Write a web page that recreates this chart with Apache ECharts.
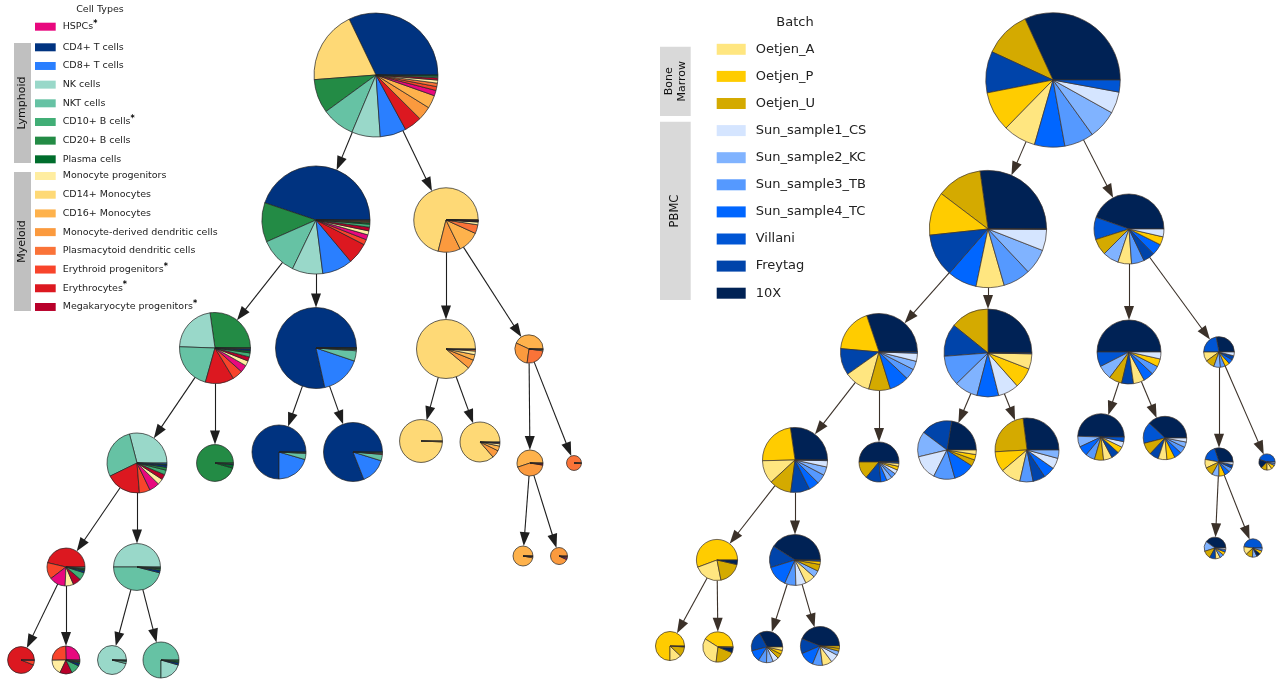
<!DOCTYPE html>
<html><head><meta charset="utf-8">
<script src="https://cdn.jsdelivr.net/npm/echarts@6/dist/echarts.min.js"></script>
<style>html,body{margin:0;padding:0;background:#fff}#c{width:1285px;height:680px}</style>
</head><body><div id="c"></div><script>
// ---------------- DATA ----------------
const cellTypes = ['HSPCs','CD4+ T cells','CD8+ T cells','NK cells','NKT cells','CD10+ B cells','CD20+ B cells','Plasma cells',
  'Monocyte progenitors','CD14+ Monocytes','CD16+ Monocytes','Monocyte-derived dendritic cells','Plasmacytoid dendritic cells',
  'Erythroid progenitors','Erythrocytes','Megakaryocyte progenitors'];
const starredTypes = ['HSPCs','CD10+ B cells','Erythroid progenitors','Erythrocytes','Megakaryocyte progenitors'];
const lymphoidTypes = cellTypes.slice(1, 8);
const myeloidTypes = cellTypes.slice(8);
const batches = ['Oetjen_A','Oetjen_P','Oetjen_U','Sun_sample1_CS','Sun_sample2_KC','Sun_sample3_TB','Sun_sample4_TC','Villani','Freytag','10X'];

// tree: parent of each cluster node (-1 = root)
const parentOf = [-1,0,0,1,1,2,2,3,3,4,4,5,5,6,6,7,7,13,13,15,15,16,16];
// relative cell count of each cluster node (pie area)
const nodeCells = [38400,29200,10400,12600,16400,8700,2000,9000,3400,7300,8700,4600,4000,1700,560,3600,5500,1000,720,1800,1960,2100,3240];

// cell-type share (%) per node, in cellTypes order
const cellTypeShares = [
 [1.4,32,6.8,7.4,8.6,0.4,8.8,0.3,0.8,19,3.4,3.6,0.9,1.0,4.6,0.6],
 [1.5,45,9.1,9.2,11.3,0.9,11.8,0.5,1.2,0.1,0.2,0.3,0.15,1.6,6.4,1.1],
 [0.1,0.3,0.1,0.1,0.1,0,0.1,0,1.4,71.2,11.0,11.2,4.4,0,0.1,0.1],
 [3.3,0.8,0.3,22,21,1.8,27,1.0,2.3,0.1,0,0,0,4.7,12.9,1.9],
 [0.05,78.5,16.3,0.4,4.1,0.05,0.3,0.1,0,0,0,0,0,0,0.2,0],
 [0,0.3,0,0,0,0,0,0,2,88.6,3,5,0.8,0,0,0],
 [0,0,0,0,0,0,0,0,1.2,0.3,43,29.7,25,0,0,0.6],
 [5.5,1.2,0.5,28.8,27.9,2.5,1.5,0.6,3.1,0,0,0,0,5.8,18.9,2.8],
 [0,0.8,0,0,0,0.7,95.5,3,0,0,0,0,0,0,0,0],
 [0,75,20.5,0.5,3.6,0,0.4,0,0,0,0,0,0,0,0,0],
 [0,81,14.2,0.4,3.5,0,0.4,0,0,0,0,0,0,0,0.5,0],
 [0,0,0,0,0,0,0,0,0,99.3,0.3,0.4,0,0,0,0],
 [0,0.6,0,0,0,0,0,0,1.9,86.4,3.9,6.4,0.8,0,0,0],
 [0.8,0,0,0,0,0,0,0,0,0,55,42,0.6,0,0,1.2],
 [0,0,0,0,0,0,0,0,0,0,0.5,0.5,99,0,0,0],
 [13.9,1.8,0,0,0.9,6.5,1.0,1.2,7.2,0,0,0,0,14,46.3,7.1],
 [0,1.8,0,50,46,0.5,1,0.7,0,0,0,0,0,0,0,0],
 [0,0,0,0,0,0,0,0,0,0.5,97,2,0,0,0,0.5],
 [3,0,0,0,0,0,0,0,0,0,2,93,0,0,0,2],
 [0.5,0,0,0,0,0,0,0,0,0,0,0,0,5.5,94,0],
 [25.5,3,0,0,0.8,11,0,2,17.8,0,0,0,0,25,1.2,14.2],
 [0,1,0,96,2.5,0,0.5,0,0,0,0,0,0,0,0,0],
 [0,2,0,20.5,75,0,1,1.5,0,0,0,0,0,0,0,0]
];
// batch share (%) per node, in batches order
const batchShares = [
 [7.9,9.6,11.3,5.2,7.0,7.1,7.3,2.9,10.0,31.9],
 [7.8,12.1,12.6,5.9,7.1,7.6,8.2,0.1,12.0,27.4],
 [6.3,3.8,7.6,3.6,7.4,5.9,5.2,10.3,5.3,44.6],
 [10.9,18.4,9.1,3.4,3.6,4.5,8.2,0.5,11.2,30.2],
 [5.6,7.5,14.1,7.6,8.6,11.1,8.0,0.3,12,25],
 [5.6,4.0,6.6,3.5,7.2,4.4,5.2,7.5,6.0,50],
 [10,5,9.5,4,7,5.1,4.9,22,4.5,28],
 [11,22,10.5,3,4,4.5,5,0.3,9,26],
 [2.5,3,14,3.5,4.5,4,5,1,12.5,50],
 [2.5,3.0,3.5,13.8,14,11.8,11.6,0,17.3,22.4],
 [10.2,10.3,23.9,5.5,4.2,6.7,5.9,0,6.3,27],
 [6,4.5,6.3,4,7.5,6.5,7,3.2,5.5,49.5],
 [6.5,6,9,3,4,5,5.5,16,7,38],
 [10,7,9.9,3,8,5,6,17,4,30],
 [10,8,12,0,3,4,0,45,0,18],
 [22.4,55.7,18.3,0,0,0,0,0,0,3.6],
 [6.4,2,4.3,6.5,4.4,7.2,13.6,0.8,13.8,41],
 [7,5,12,2.5,15,6,3.5,0,9,40],
 [14,6,12,0,8,5,0,48,0,7],
 [13,75,11,0,0,0,0,0,0,1],
 [32,41,21,0,0.5,0,0,0,0,5.5],
 [3.5,4,5,6,7,8.5,12,0,21,33],
 [8.2,1.8,2.5,7,3.5,8.3,12.4,0,12.5,44]
];

// ---------------- LAYOUT / STYLE ----------------
const leftPos = [[376,75],[316,220],[446,220],[215,348],[316,348],[446,349],[529,349],[137,463],[215,463],[279,452],[353,452],
  [421,441],[480,442],[530,463],[574,463],[66,567],[137,567],[523,556],[559,556],[21,660],[66,660],[112,660],[161,660]];
const rightPos = [[1053,80],[988,229],[1129,229],[879,352],[988,353],[1129,352],[1219,352],[795,460],[879,462],[947,450],[1027,450],
  [1101,437],[1165,438],[1219,462],[1267,462],[717,560],[795,560],[1215,548],[1253,548],[670,646],[718,647],[767,647],[820,646]];
const kLeft = 0.3162, kRight = 0.343;
const cellColors = ['#e8087e','#003380','#2a7fff','#99d8c9','#66c2a4','#41ae76','#238b45','#006d2c',
  '#ffeda0','#fed976','#feb24c','#fb9a3e','#fa7338','#f8442b','#dc1820','#b8002a'];
const batchColors = ['#ffe680','#ffcc00','#d4aa00','#d5e5ff','#80b3ff','#5599ff','#0066ff','#0055d4','#0044aa','#002255'];
const FONT = 'DejaVu Sans';
const ARROW_W = 10, ARROW_L = 14;
const W = 1285, H = 680;

const chart = echarts.init(document.getElementById('c'), null, {renderer:'canvas', width:W, height:H});
chart.setOption({
  animation:false,
  grid:{left:0,right:0,top:0,bottom:0},
  xAxis:{type:'value',min:0,max:W,show:false},
  yAxis:{type:'value',min:0,max:H,inverse:true,show:false},
  series:[]
});

const rad = (i,k) => k*Math.sqrt(nodeCells[i]);

function edgeData(pos, k){
  const out = [];
  parentOf.forEach((p,i)=>{
    if (p < 0) return;
    const [x1,y1] = pos[p], [x2,y2] = pos[i];
    const dx = x2-x1, dy = y2-y1, d = Math.hypot(dx,dy), ux = dx/d, uy = dy/d;
    const rp = rad(p,k), rc = rad(i,k) + ARROW_L/2;
    out.push({coords:[[x1+ux*rp, y1+uy*rp],[x2-ux*rc, y2-uy*rc]]});
  });
  return out;
}
function edgeSeries(pos, k, color){
  return {type:'lines', coordinateSystem:'cartesian2d', silent:true, z:1,
    symbol:['none','triangle'], symbolSize:[[1,1],[ARROW_W,ARROW_L]],
    lineStyle:{color:color,width:1.1,opacity:1}, itemStyle:{color:color},
    data:edgeData(pos,k)};
}
function pieSeries(pos, k, shares, names, colors, border){
  return pos.map((p,i)=>{
    const c = chart.convertToPixel({gridIndex:0}, p);
    const items = shares[i].map((v,j)=>({name:names[j], value:v, itemStyle:{color:colors[j]}}))
      .filter(d=>d.value>0).sort((a,b)=>b.value-a.value);
    return {type:'pie', center:c, radius:rad(i,k), startAngle:0, clockwise:false, minAngle:0,
      avoidLabelOverlap:false, silent:true, z:3, data:items,
      label:{show:false}, labelLine:{show:false}, emphasis:{disabled:true},
      itemStyle:{borderColor:border,borderWidth:0.7}};
  });
}

const starFmt = name => starredTypes.indexOf(name) >= 0 ? name + '{s|*}' : name;
const leftText = {fontFamily:FONT, fontSize:9.5, color:'#222', lineHeight:14, padding:[0,0,0,2],
  rich:{s:{fontSize:8, fontWeight:'bold', lineHeight:8, verticalAlign:'top', color:'#000'}}};
const legendBase = {orient:'vertical', icon:'rect', selectedMode:false, padding:0, itemStyle:{borderWidth:0}};

chart.setOption({
  legend:[
    Object.assign({}, legendBase, {data:['HSPCs'], left:35, top:26.7-7, itemWidth:20.7, itemHeight:8, itemGap:4.67, textStyle:leftText, formatter:starFmt}),
    Object.assign({}, legendBase, {data:lymphoidTypes, left:35, top:47.3-7, itemWidth:20.7, itemHeight:8, itemGap:4.67, textStyle:leftText, formatter:starFmt}),
    Object.assign({}, legendBase, {data:myeloidTypes, left:35, top:176-7, itemWidth:20.7, itemHeight:8, itemGap:4.71, textStyle:leftText, formatter:starFmt}),
    Object.assign({}, legendBase, {data:batches, left:716.7, top:49.3-8.5, itemWidth:29, itemHeight:11, itemGap:10.1,
      textStyle:{fontFamily:FONT, fontSize:13, color:'#222', lineHeight:17, padding:[0,0,0,5]}})
  ],
  graphic:[
    {type:'rect', silent:true, shape:{x:14,y:43,width:17,height:120}, style:{fill:'#c0c0c0'}},
    {type:'rect', silent:true, shape:{x:14,y:172,width:17,height:139}, style:{fill:'#c0c0c0'}},
    {type:'text', silent:true, x:22.5, y:103, rotation:Math.PI/2, style:{text:'Lymphoid', font:'11px "DejaVu Sans"', fill:'#111', align:'center', verticalAlign:'middle'}},
    {type:'text', silent:true, x:22.5, y:241.5, rotation:Math.PI/2, style:{text:'Myeloid', font:'11px "DejaVu Sans"', fill:'#111', align:'center', verticalAlign:'middle'}},
    {type:'text', silent:true, x:100, y:10, style:{text:'Cell Types', font:'9.5px "DejaVu Sans"', fill:'#222', align:'center', verticalAlign:'middle'}},
    {type:'rect', silent:true, shape:{x:660,y:46.7,width:30.7,height:69.3}, style:{fill:'#d9d9d9'}},
    {type:'rect', silent:true, shape:{x:660,y:121.7,width:30.7,height:178.3}, style:{fill:'#d9d9d9'}},
    {type:'text', silent:true, x:675.3, y:81.3, rotation:Math.PI/2, style:{text:'Bone\nMarrow', font:'11px "DejaVu Sans"', lineHeight:13, fill:'#111', align:'center', verticalAlign:'middle'}},
    {type:'text', silent:true, x:675.3, y:211, rotation:Math.PI/2, style:{text:'PBMC', font:'11.5px "DejaVu Sans"', fill:'#111', align:'center', verticalAlign:'middle'}},
    {type:'text', silent:true, x:795, y:23, style:{text:'Batch', font:'13px "DejaVu Sans"', fill:'#222', align:'center', verticalAlign:'middle'}}
  ],
  series:[
    edgeSeries(leftPos, kLeft, '#1e1e1e'),
    edgeSeries(rightPos, kRight, '#3b3129'),
    ...pieSeries(leftPos, kLeft, cellTypeShares, cellTypes, cellColors, '#222'),
    ...pieSeries(rightPos, kRight, batchShares, batches, batchColors, '#3b3129')
  ]
});
</script></body></html>
